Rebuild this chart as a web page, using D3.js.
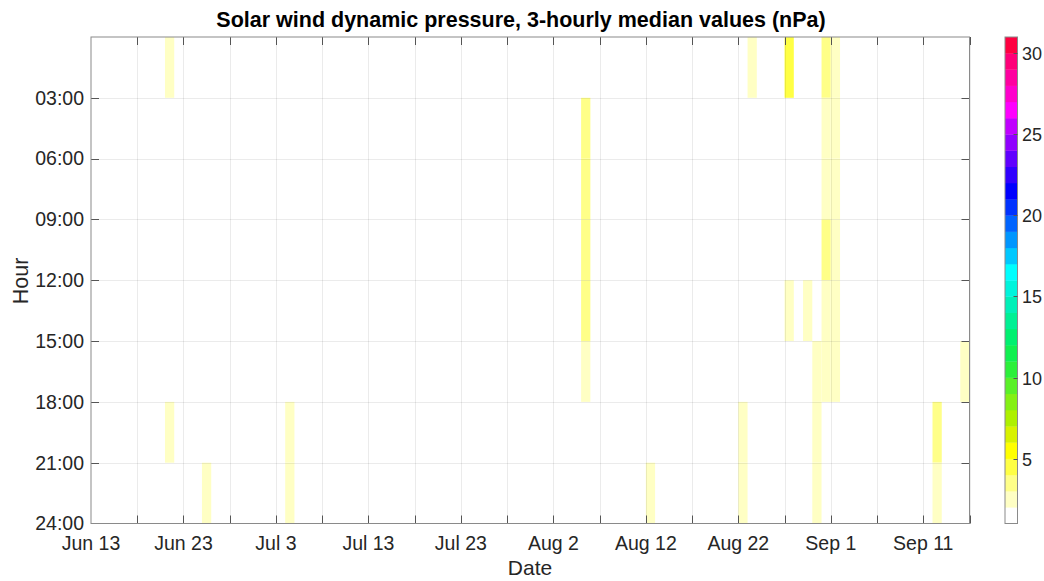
<!DOCTYPE html>
<html>
<head>
<meta charset="utf-8">
<script src="https://cdn.jsdelivr.net/npm/d3@7"></script>
<style>
  body { margin: 0; background: #fff; }
  svg { font-family: "Liberation Sans", Arial, sans-serif; }
</style>
</head>
<body>
<svg id="chart" width="1044" height="581"></svg>
<script>
// 3-hourly median cells: day, start hour of the bin, value (nPa)
const cellDays = [
    "06-21", "06-21", "06-25", "07-04", "07-04",
    "08-05", "08-05", "08-05", "08-05", "08-05",
    "08-12", "08-22", "08-22", "08-23",
    "08-27", "08-27", "08-29",
    "08-30", "08-30", "08-30",
    "08-31", "08-31", "08-31", "08-31", "08-31", "08-31",
    "09-01", "09-01", "09-01", "09-01", "09-01", "09-01",
    "09-12", "09-12", "09-15"
];
const cellHours = [
    0, 18, 21, 18, 21,
    3, 6, 9, 12, 15,
    21, 18, 21, 0,
    0, 12, 12,
    15, 18, 21,
    0, 3, 6, 9, 12, 15,
    0, 3, 6, 9, 12, 15,
    18, 21, 15
];
const cellValues = [
    2.5, 2.5, 2.5, 2.5, 2.5,
    3.5, 3.5, 3.5, 3.5, 2.5,
    2.5, 2.5, 2.5, 2.5,
    4.5, 2.5, 2.5,
    2.5, 2.5, 2.5,
    3.5, 2.5, 2.5, 3.5, 2.5, 2.5,
    2.5, 2.5, 2.5, 2.5, 2.5, 2.5,
    3.5, 2.5, 2.5
];

const hourTicks = [3, 6, 9, 12, 15, 18, 21, 24];
const colorTicks = [5, 10, 15, 20, 25, 30];
const colorDomain = [1, 31];

// one colour per unit step, bottom (1) to top (31)
const colormap = [
    "#ffffff", "#ffffc4", "#ffff88", "#ffff44", "#ffff00",
    "#d8f200", "#aef000", "#84f014", "#5af028", "#2cf03a",
    "#10f050", "#00f070", "#00f094", "#00f0b8", "#00f4dc",
    "#00ffff", "#00c8ff", "#0096ff", "#0064ff", "#0032ff",
    "#0000ff", "#3000ff", "#6000ff", "#9000ff", "#c000ff",
    "#ff00ff", "#ff00cc", "#ff00a0", "#ff0078", "#ff0040"
];

const year = 2023;
const parseDay = d => new Date(Date.UTC(year, +d.slice(0, 2) - 1, +d.slice(3)));
const cells = cellDays.map((d, i) => ({ day: parseDay(d), hour: cellHours[i], value: cellValues[i] }));

const margin = { left: 91, top: 37, right: 969.5, bottom: 523.5 };
const svg = d3.select("#chart");

const x = d3.scaleUtc()
    .domain([new Date(Date.UTC(year, 5, 13)), new Date(Date.UTC(year, 8, 16))])
    .range([margin.left, margin.right]);
const y = d3.scaleLinear()
    .domain([0, 24])
    .range([margin.top, margin.bottom]);
const color = d3.scaleQuantize()
    .domain(colorDomain)
    .range(colormap);

// 5-day steps from Jun 13
const xTicks = d3.range(0, 96, 5).map(n => d3.utcDay.offset(x.domain()[0], n));
const fmt = d3.utcFormat("%b %-d");

// cells
svg.append("g")
    .selectAll("rect")
    .data(cells)
    .join("rect")
        .attr("x", d => x(d.day))
        .attr("y", d => y(d.hour))
        .attr("width", d => x(d3.utcDay.offset(d.day, 1)) - x(d.day))
        .attr("height", d => y(d.hour + 3) - y(d.hour))
        .attr("fill", d => color(d.value));

// grid
const grid = svg.append("g").attr("stroke", "rgba(0,0,0,0.08)").attr("stroke-width", 1);
grid.selectAll(".vg").data(xTicks.slice(1)).join("line")
    .attr("x1", d => Math.round(x(d)) + 0.5).attr("x2", d => Math.round(x(d)) + 0.5)
    .attr("y1", margin.top).attr("y2", margin.bottom);
grid.selectAll(".hg").data(hourTicks.slice(0, -1)).join("line")
    .attr("y1", d => Math.round(y(d)) + 0.5).attr("y2", d => Math.round(y(d)) + 0.5)
    .attr("x1", margin.left).attr("x2", margin.right);

// ticks inside the box
const tickLen = 8;
const tk = svg.append("g").attr("stroke", "#555").attr("stroke-width", 1);
xTicks.slice(1).forEach(d => {
    const px = Math.round(x(d)) + 0.5;
    tk.append("line").attr("x1", px).attr("x2", px).attr("y1", margin.bottom).attr("y2", margin.bottom - tickLen);
    tk.append("line").attr("x1", px).attr("x2", px).attr("y1", margin.top).attr("y2", margin.top + tickLen);
});
hourTicks.slice(0, -1).forEach(h => {
    const py = Math.round(y(h)) + 0.5;
    tk.append("line").attr("y1", py).attr("y2", py).attr("x1", margin.left).attr("x2", margin.left + tickLen);
    tk.append("line").attr("y1", py).attr("y2", py).attr("x1", margin.right).attr("x2", margin.right - tickLen);
});

// box
svg.append("rect")
    .attr("x", margin.left).attr("y", margin.top)
    .attr("width", margin.right - margin.left).attr("height", margin.bottom - margin.top)
    .attr("fill", "none").attr("stroke", "#8a8a8a").attr("stroke-width", 1);

// tick labels
svg.append("g").selectAll("text")
    .data(xTicks.filter((d, i) => i % 2 == 0))
    .join("text")
        .attr("x", d => x(d))
        .attr("y", 550)
        .attr("text-anchor", "middle")
        .attr("font-size", 19.5)
        .attr("fill", "#262626")
        .text(fmt);

svg.append("g").selectAll("text")
    .data(hourTicks)
    .join("text")
        .attr("x", 84)
        .attr("y", d => y(d))
        .attr("dy", "0.35em")
        .attr("text-anchor", "end")
        .attr("font-size", 19.5)
        .attr("fill", "#262626")
        .text(d => String(d).padStart(2, "0") + ":00");

// axis titles
svg.append("text")
    .attr("x", 530).attr("y", 575)
    .attr("text-anchor", "middle")
    .attr("font-size", 21)
    .attr("fill", "#262626")
    .text("Date");

svg.append("text")
    .attr("transform", "translate(28,281) rotate(-90)")
    .attr("text-anchor", "middle")
    .attr("font-size", 21.5)
    .attr("fill", "#262626")
    .text("Hour");

svg.append("text")
    .attr("x", 521).attr("y", 27)
    .attr("text-anchor", "middle")
    .attr("font-size", 21.5)
    .attr("font-weight", "bold")
    .attr("fill", "#000")
    .text("Solar wind dynamic pressure, 3-hourly median values (nPa)");

// colorbar
const cb = { x: 1005, w: 12.5 };
const cy = d3.scaleLinear().domain(colorDomain).range([margin.bottom, margin.top]);
svg.append("g").selectAll("rect")
    .data(colormap)
    .join("rect")
        .attr("x", cb.x)
        .attr("y", (c, i) => cy(colorDomain[0] + i + 1))
        .attr("width", cb.w)
        .attr("height", (c, i) => cy(colorDomain[0] + i) - cy(colorDomain[0] + i + 1) + 0.3)
        .attr("fill", c => c);
svg.append("rect")
    .attr("x", cb.x).attr("y", margin.top)
    .attr("width", cb.w).attr("height", margin.bottom - margin.top)
    .attr("fill", "none").attr("stroke", "#8a8a8a").attr("stroke-width", 1);
colorTicks.forEach(v => {
    const py = Math.round(cy(v)) + 0.5;
    svg.append("line")
        .attr("x1", cb.x + cb.w - 4).attr("x2", cb.x + cb.w)
        .attr("y1", py).attr("y2", py)
        .attr("stroke", "#555");
    svg.append("text")
        .attr("x", 1022).attr("y", py)
        .attr("dy", "0.35em")
        .attr("font-size", 18)
        .attr("fill", "#262626")
        .text(v);
});
</script>
</body>
</html>
